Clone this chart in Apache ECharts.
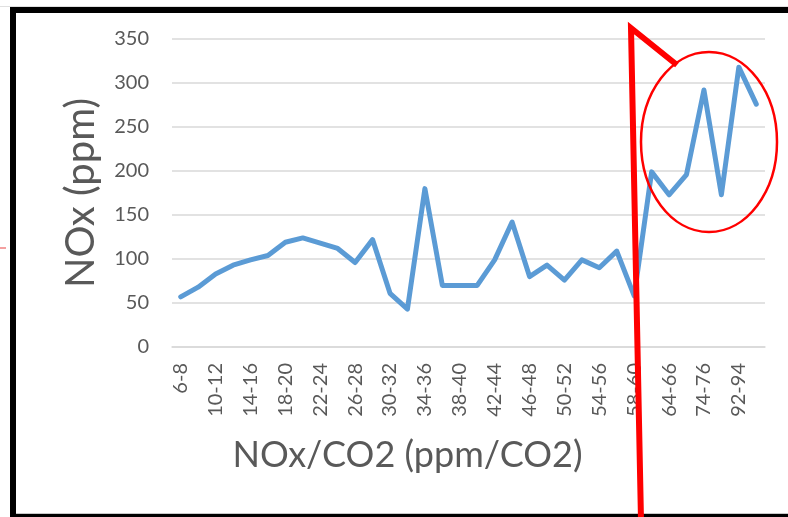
<!DOCTYPE html>
<html>
<head>
<meta charset="utf-8">
<script src="https://cdn.jsdelivr.net/npm/echarts@6/dist/echarts.min.js"></script>
<style>
  html, body { margin: 0; padding: 0; background: #ffffff; }
  #chart { width: 788px; height: 517px; }
</style>
</head>
<body>
<div id="chart"></div>
<script>
// NOx/CO2 ratio bins (every other one is labelled on the axis)
const categories = [
  '6-8', '8-10', '10-12', '12-14', '14-16', '16-18', '18-20', '20-22',
  '22-24', '24-26', '26-28', '28-30', '30-32', '32-34', '34-36', '36-38',
  '38-40', '40-42', '42-44', '44-46', '46-48', '48-50', '50-52', '52-54',
  '54-56', '56-58', '58-60', '60-62', '64-66', '68-70', '74-76', '80-82',
  '92-94', '98-100'
];

// NOx concentration (ppm) for each bin
const noxValues = [
  57, 68, 83, 93, 99, 104, 119, 124,
  118, 112, 96, 122, 61, 43, 180, 70,
  70, 70, 99, 142, 80, 93, 76, 99,
  90, 109, 58, 199, 173, 196, 292, 173,
  318, 276
];

// Y axis ticks
const yMin = 0;
const yMax = 350;
const yStep = 50;

const textColor = '#595959';
const fontFamily = 'Lato, "Liberation Sans", sans-serif';

const chart = echarts.init(document.getElementById('chart'), null, { renderer: 'canvas' });

chart.setOption({
  backgroundColor: '#ffffff',
  animation: false,
  grid: { left: 172, right: 23, top: 39, bottom: 170, containLabel: false },
  xAxis: {
    type: 'category',
    data: categories,
    boundaryGap: true,
    name: 'NOx/CO2 (ppm/CO2)',
    nameLocation: 'middle',
    nameGap: 90,
    nameTextStyle: {
      color: textColor, fontSize: 36, fontFamily: fontFamily,
      padding: [0, 122, 0, 0]
    },
    axisLine: { show: true, lineStyle: { color: '#d9d9d9', width: 1.5 } },
    axisTick: { show: false },
    axisLabel: {
      interval: 1, rotate: 90, margin: 16,
      color: textColor, fontSize: 20, fontFamily: fontFamily
    },
    splitLine: { show: false }
  },
  yAxis: {
    type: 'value',
    min: yMin, max: yMax, interval: yStep,
    name: 'NOx (ppm)',
    nameLocation: 'middle',
    nameGap: 71,
    nameTextStyle: { color: textColor, fontSize: 40, fontFamily: fontFamily },
    axisLine: { show: false },
    axisTick: { show: false },
    axisLabel: { margin: 23, color: textColor, fontSize: 20, fontFamily: fontFamily },
    splitLine: { show: true, lineStyle: { color: '#d9d9d9', width: 1.5 } }
  },
  series: [{
    type: 'line',
    data: noxValues,
    showSymbol: false,
    symbol: 'none',
    lineStyle: { color: '#5b9bd5', width: 5, cap: 'round', join: 'round' },
    itemStyle: { color: '#5b9bd5' }
  }],
  graphic: [
    // frame around the figure
    { type: 'rect', shape: { x: 0, y: 6, width: 788, height: 1 }, style: { fill: '#e0e0e0' }, z: 100 },
    { type: 'rect', shape: { x: 10, y: 7, width: 778, height: 6 }, style: { fill: '#000000' }, z: 100 },
    { type: 'rect', shape: { x: 10, y: 7, width: 6, height: 510 }, style: { fill: '#000000' }, z: 100 },
    { type: 'rect', shape: { x: 16, y: 513, width: 772, height: 1 }, style: { fill: '#c8c8c8' }, z: 100 },
    { type: 'rect', shape: { x: 10, y: 514, width: 778, height: 3 }, style: { fill: '#000000' }, z: 100 },
    // small red mark at the left edge
    { type: 'line', shape: { x1: 0, y1: 248, x2: 6, y2: 248 }, style: { stroke: '#f08080', lineWidth: 1.5 }, z: 100 },
    // red highlight: flag line and ellipse around the high values
    {
      type: 'polyline',
      shape: { points: [[677, 65], [631, 28], [641, 520]] },
      style: { stroke: '#ff0000', lineWidth: 6, fill: null, lineJoin: 'miter' },
      z: 110
    },
    {
      type: 'ellipse',
      shape: { cx: 709, cy: 142, rx: 68, ry: 90 },
      style: { stroke: '#ff0000', lineWidth: 2.5, fill: null },
      z: 110
    }
  ]
});
</script>
</body>
</html>
